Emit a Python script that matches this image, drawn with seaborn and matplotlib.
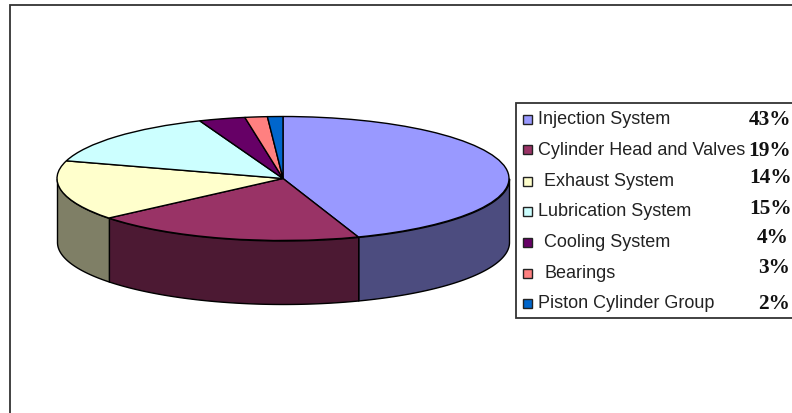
import numpy as np
import matplotlib
matplotlib.use('Agg')
import matplotlib.pyplot as plt
from matplotlib.patches import Rectangle
import seaborn as sns

categories = ['Injection System', 'Cylinder Head and Valves', 'Exhaust System',
              'Lubrication System', 'Cooling System', 'Bearings', 'Piston Cylinder Group']
percent_labels = ['43%', '19%', '14%', '15%', '4%', '3%', '2%']
# slice sizes as drawn in the picture, they differ a bit from the printed labels
slice_shares = [44.6, 19.4, 15.6, 14.4, 3.3, 1.6, 1.1]

top_colors = ['#9999FF', '#993366', '#FFFFCC', '#CCFFFF', '#660066', '#FF8080', '#0066CC']
side_colors = ['#4C4C7F', '#4C1933', '#7F7F66', '#668080', '#330033', '#804040', '#003366']

sns.set_theme(style='white')
plt.rcParams['font.family'] = ['Liberation Sans', 'DejaVu Sans']

W, H = 792, 414
fig = plt.figure(figsize=(W / 100, H / 100), dpi=100, facecolor='white')

# pie axes: one data unit is the ellipse radius
cx, cy, rx, ry, depth = 283, 179.5, 226, 62, 63.5
ax = fig.add_axes([0, 0, 1, 1])
ax.pie(slice_shares, colors=sns.color_palette(top_colors), startangle=90, counterclock=False,
       radius=1, wedgeprops={'edgecolor': 'black', 'linewidth': 1.0, 'zorder': 3})
ax.set_aspect('auto')
ax.set_xlim(-cx / rx, (W - cx) / rx)
ax.set_ylim((cy - H) / ry, cy / ry)
ax.axis('off')

# side wall, only the front half of the rim shows (-180..0 degrees)
edges = 90 - 3.6 * np.concatenate([[0], np.cumsum(slice_shares)])
for i in range(len(slice_shares)):
    a0, a1 = edges[i], edges[i + 1]
    if a1 >= 0 or a0 <= -180:
        continue
    arc = np.radians(np.linspace(min(a0, 0), max(a1, -180), 80))
    x, y = np.cos(arc), np.sin(arc)
    ax.fill_between(x, y, y - depth / ry, facecolor=side_colors[i], edgecolor='black',
                    linewidth=1.0, zorder=2)

# overlay in pixels for the frame and the legend panel
ov = fig.add_axes([0, 0, 1, 1], facecolor='none')
ov.set_xlim(0, W)
ov.set_ylim(H, 0)
ov.axis('off')
ov.plot([9.5, 9.5, W], [H, 5.5, 5.5], color='#333333', lw=1.3, solid_joinstyle='miter')

ov.add_patch(Rectangle((516, 103.5), 290, 216, facecolor='white', edgecolor='#333333', lw=1.3))
swatch_y = [120, 150, 182, 212, 243, 274, 304]
text_y = [120, 151, 182, 212, 243, 274, 304]
text_x = [538, 538, 544, 538, 544, 544, 538]
pct_x = [749, 748, 749, 749, 757, 758, 758]
pct_y = [120, 151, 178, 209, 238, 268, 304]
for i, name in enumerate(categories):
    ov.add_patch(Rectangle((523, swatch_y[i] - 4.5), 9, 9, facecolor=top_colors[i], edgecolor='#222222', lw=1.0))
    ov.text(text_x[i], text_y[i], name, fontsize=13.0, va='center', ha='left', color='#222222')
    ov.text(pct_x[i], pct_y[i], percent_labels[i], fontsize=15.3, va='center', ha='left', color='#111111',
            family=['Liberation Serif', 'DejaVu Serif'], fontweight='bold')

fig.savefig('out.png', dpi=100)
